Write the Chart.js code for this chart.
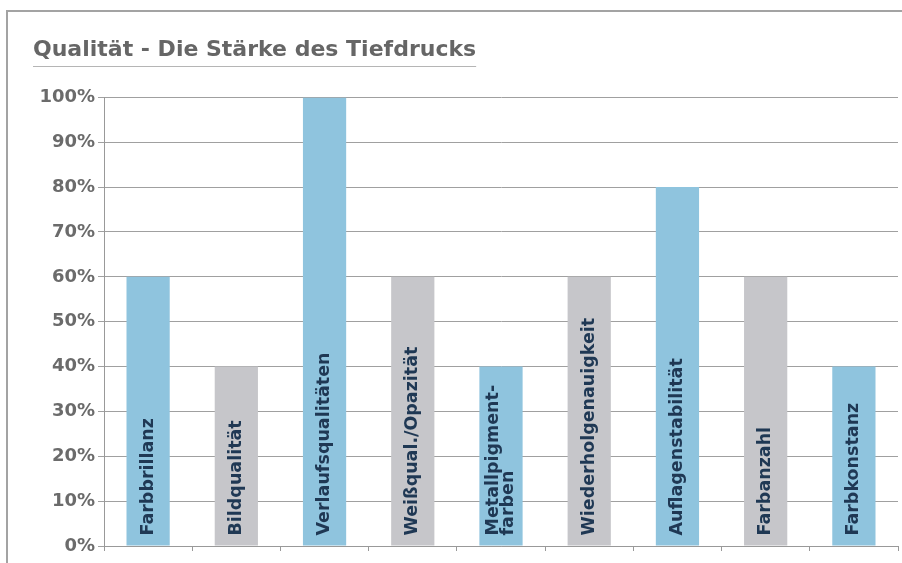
<!DOCTYPE html>
<html>
<head>
<meta charset="utf-8">
<script src="https://cdn.jsdelivr.net/npm/chart.js@4.4.1/dist/chart.umd.min.js"></script>
<style>
    body { margin: 0; background: #fff; }
    #wrap { position: relative; width: 902px; height: 563px; overflow: hidden; }
    #rahmen { position: absolute; left: 6px; top: 10px; width: 920px; height: 600px;
              border-left: 2px solid #a3a3a3; border-top: 2px solid #a3a3a3; }
    canvas { position: absolute; left: 0; top: 0; }
</style>
</head>
<body>
<div id="wrap">
    <div id="rahmen"></div>
    <canvas id="qualitaetChart" width="902" height="563"></canvas>
</div>
<script>
// Kategorien (Beschriftung in den Balken)
const kategorien = [
    'Farbbrillanz', 'Bildqualität', 'Verlaufsqualitäten', 'Weißqual./Opazität',
    ['Metallpigment-', 'farben'], 'Wiederholgenauigkeit', 'Auflagenstabilität',
    'Farbanzahl', 'Farbkonstanz'
];
// Werte in Prozent
const werte = [60, 40, 100, 60, 40, 60, 80, 60, 40];
// Farbe je Balken: blau / grau
const farbTyp = ['blau', 'grau', 'blau', 'grau', 'blau', 'grau', 'blau', 'grau', 'blau'];
// Y-Achse
const yTicks = [0, 10, 20, 30, 40, 50, 60, 70, 80, 90, 100];

const farben = { blau: '#8fc4de', grau: '#c6c6ca' };
const titelFont = { family: 'DejaVu Sans', size: 22, weight: 'bold' };

// Plugin: Beschriftung senkrecht in den Balken
const balkenText = {
    id: 'balkenText',
    afterDatasetsDraw(chart) {
        const ctx = chart.ctx;
        const meta = chart.getDatasetMeta(0);
        meta.data.forEach((bar, i) => {
            let zeilen = kategorien[i];
            if (!Array.isArray(zeilen)) zeilen = [zeilen];
            ctx.save();
            ctx.translate(bar.x, bar.base - 10);
            ctx.rotate(-Math.PI / 2);
            ctx.font = 'bold 17.5px "DejaVu Sans"';
            ctx.fillStyle = '#1f3854';
            ctx.textAlign = 'left';
            ctx.textBaseline = 'middle';
            const abstand = 15;
            zeilen.forEach((z, k) => {
                ctx.fillText(z, 0, (k - (zeilen.length - 1) / 2) * abstand);
            });
            ctx.restore();
        });
    }
};

// Plugin: Linie unter dem Titel
const titelLinie = {
    id: 'titelLinie',
    afterDraw(chart) {
        const t = chart.titleBlock;
        if (!t) return;
        const ctx = chart.ctx;
        ctx.save();
        ctx.font = 'bold ' + titelFont.size + 'px "DejaVu Sans"';
        const breite = ctx.measureText(chart.options.plugins.title.text).width;
        ctx.strokeStyle = '#b5b5b5';
        ctx.lineWidth = 1;
        ctx.beginPath();
        ctx.moveTo(t.left, 66.5);
        ctx.lineTo(t.left + breite, 66.5);
        ctx.stroke();
        ctx.restore();
    }
};

const ctx = document.getElementById('qualitaetChart').getContext('2d');
const chart = new Chart(ctx, {
    type: 'bar',
    data: {
        labels: kategorien,
        datasets: [{
            data: werte,
            backgroundColor: farbTyp.map(f => farben[f]),
            borderWidth: 0,
            barPercentage: 0.98,
            categoryPercentage: 0.5
        }]
    },
    options: {
        responsive: false,
        animation: false,
        layout: { padding: { left: 33, right: 4, top: 37, bottom: 0 } },
        plugins: {
            legend: { display: false },
            tooltip: { enabled: false },
            title: {
                display: true,
                text: 'Qualität - Die Stärke des Tiefdrucks',
                align: 'start',
                color: '#666666',
                font: titelFont,
                padding: { top: 0, bottom: 34 }
            }
        },
        scales: {
            x: {
                ticks: { display: false },
                grid: {
                    offset: true,
                    drawOnChartArea: false,
                    drawTicks: true,
                    tickLength: 5,
                    color: '#999999'
                },
                border: { display: true, color: '#999999' },
                afterFit: s => { s.height = 17; }
            },
            y: {
                min: 0,
                max: 100,
                afterBuildTicks: s => { s.ticks = yTicks.map(v => ({ value: v })); },
                ticks: {
                    callback: v => v + '%',
                    color: '#6b6b6b',
                    font: { family: 'DejaVu Sans', size: 18, weight: 'bold' },
                    padding: 3
                },
                grid: {
                    color: '#a0a0a0',
                    tickLength: 6,
                    drawTicks: true
                },
                border: { display: true, color: '#999999' },
                afterFit: s => { s.width = 71; }
            }
        }
    },
    plugins: [balkenText, titelLinie]
});
</script>
</body>
</html>
